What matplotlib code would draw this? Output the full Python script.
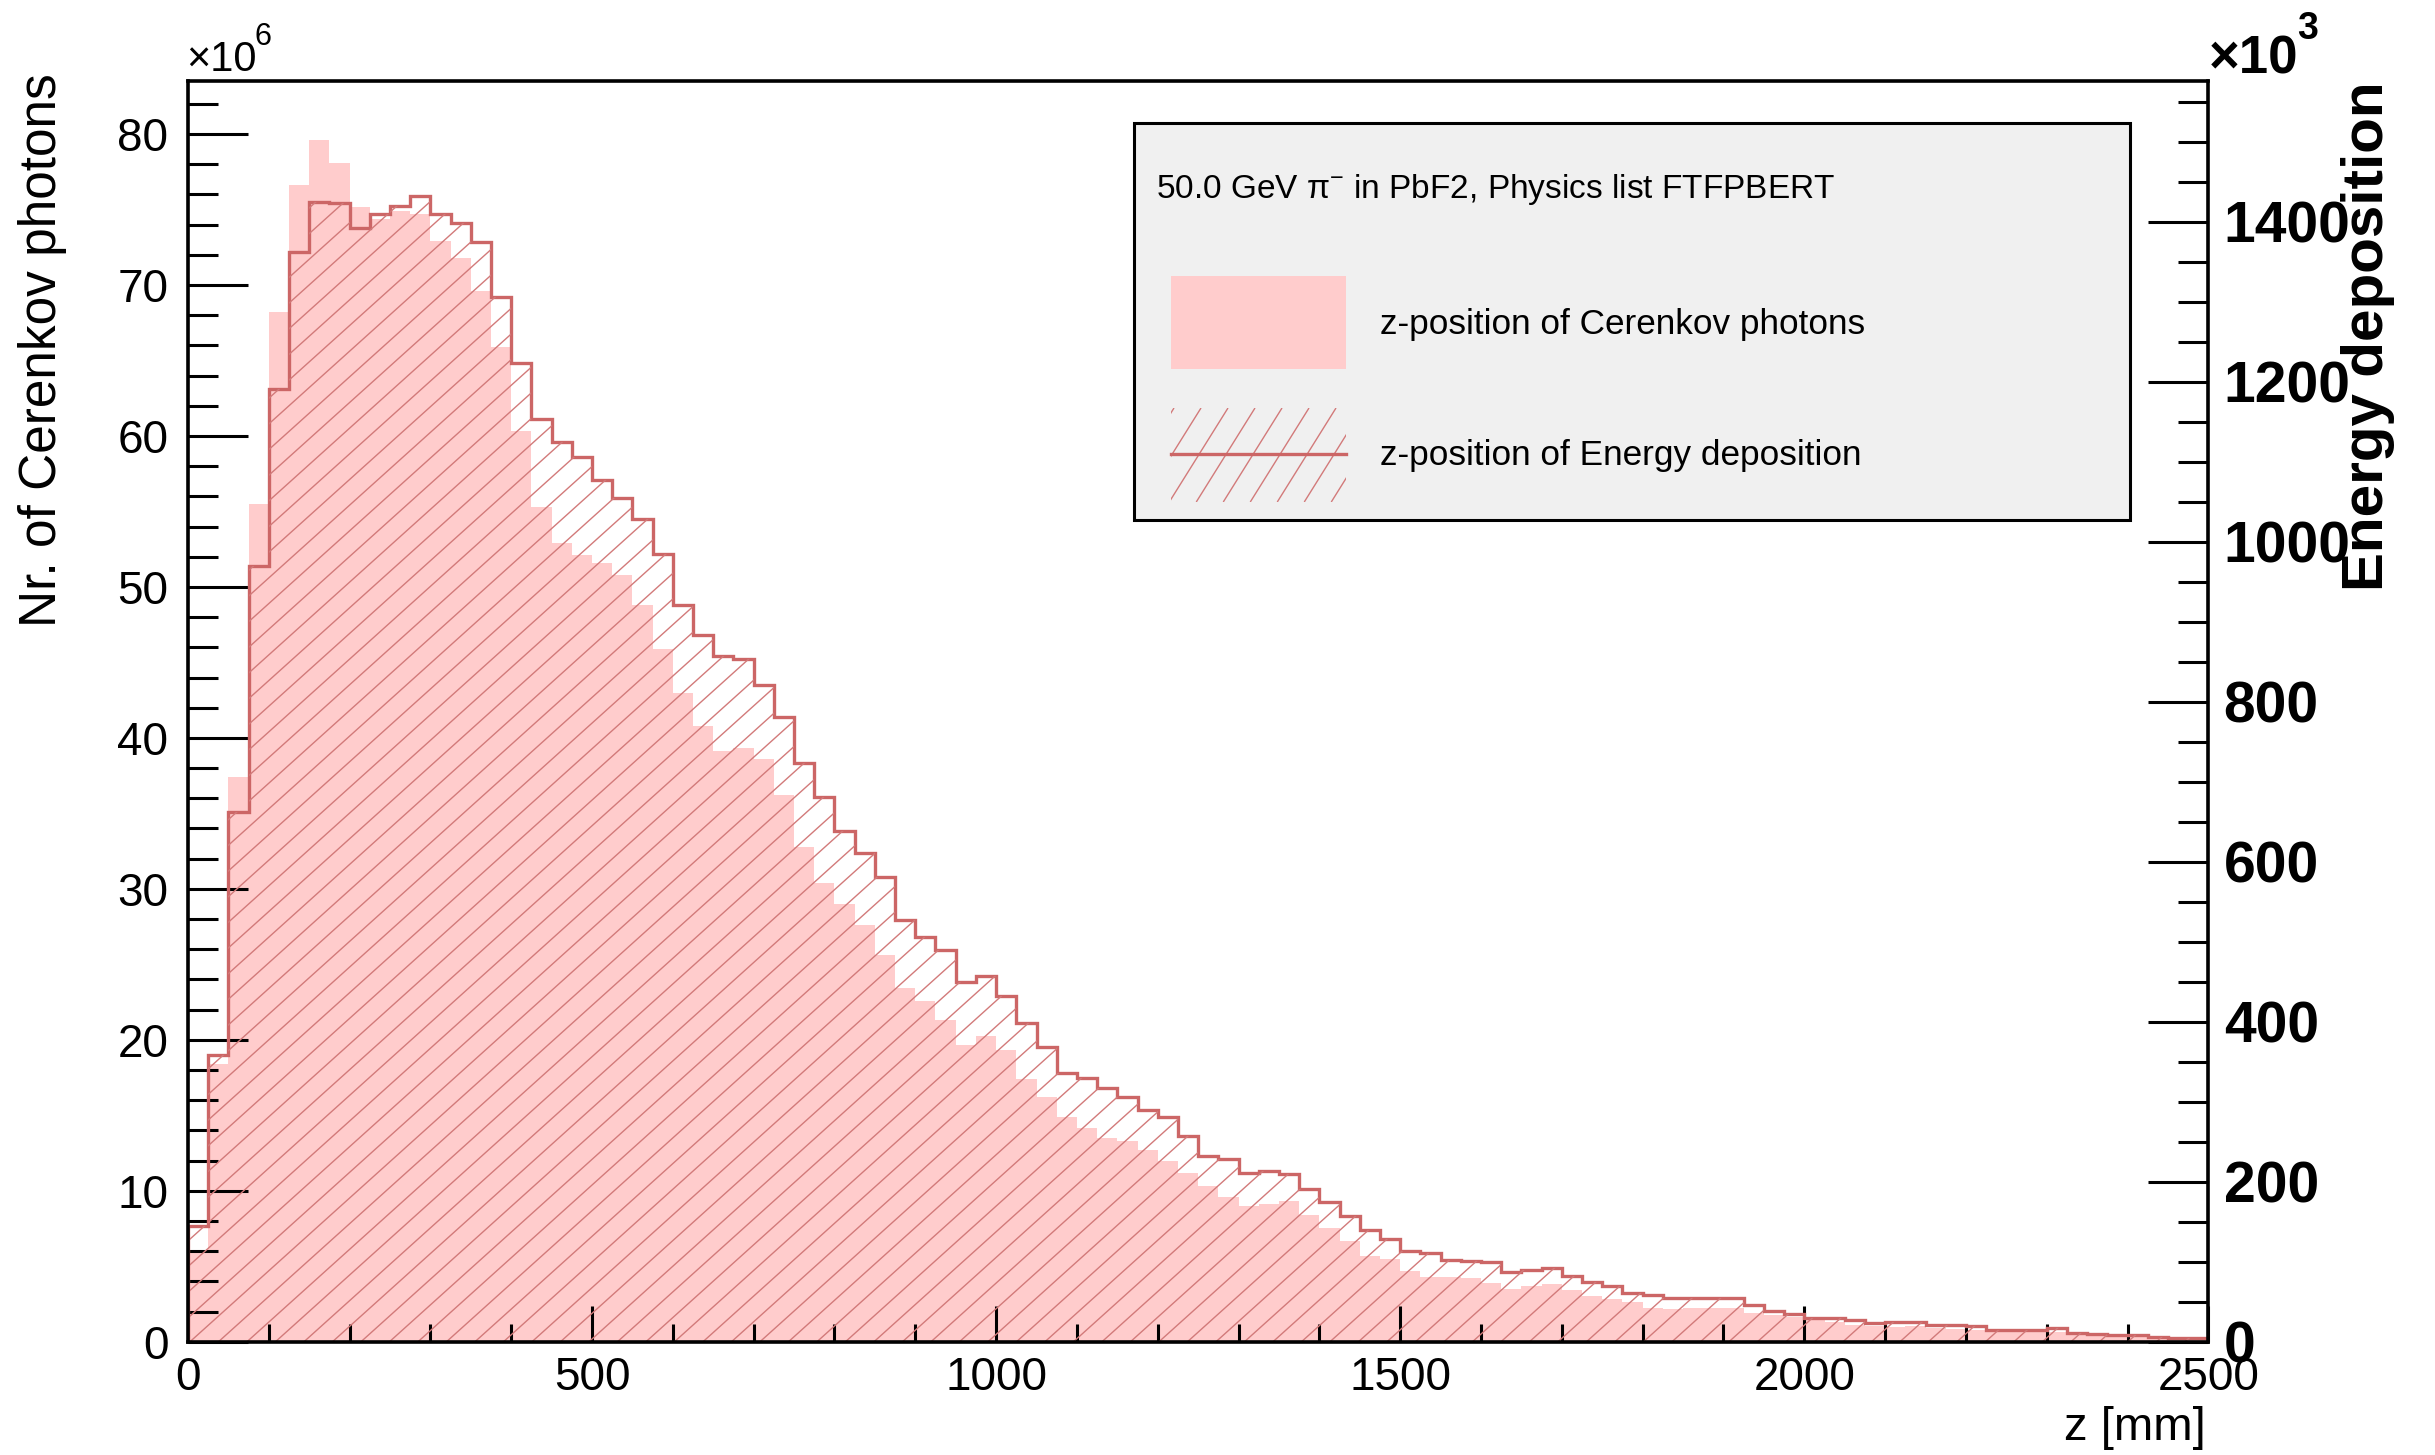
import numpy as np
import matplotlib
matplotlib.use("Agg")
import matplotlib.pyplot as plt
from matplotlib.collections import LineCollection
from matplotlib.patches import Rectangle
from matplotlib.lines import Line2D
from matplotlib.transforms import IdentityTransform
from matplotlib.ticker import MultipleLocator

plt.rcParams['font.family'] = ['Liberation Sans', 'DejaVu Sans']
plt.rcParams['mathtext.fontset'] = 'custom'
plt.rcParams['mathtext.rm'] = 'Liberation Sans'
plt.rcParams['mathtext.it'] = 'Liberation Sans:italic'
plt.rcParams['mathtext.bf'] = 'Liberation Sans:bold'

# ---------------- data ----------------
z_min, z_max, n_bins = 0, 2500, 100

# z-position of Cerenkov photons, per 25 mm bin  (x10^6)
cerenkov = [
    6.1, 18.4, 37.4, 55.5, 68.2, 76.6, 79.6, 78.1, 75.2, 74.4,
    74.9, 74.7, 72.9, 71.8, 69.6, 65.9, 60.3, 55.3, 52.9, 52.1,
    51.6, 50.8, 48.8, 45.9, 43.0, 40.8, 39.1, 39.3, 38.6, 36.2,
    32.8, 30.4, 29.0, 27.6, 25.6, 23.4, 22.6, 21.3, 19.65, 20.25,
    19.3, 17.4, 16.2, 14.9, 14.15, 13.5, 13.3, 12.7, 12.0, 11.2,
    10.3, 9.6, 9.0, 9.1, 9.3, 8.4, 7.5, 6.7, 5.7, 5.5,
    4.7, 4.3, 4.3, 4.25, 3.9, 3.5, 3.7, 3.8, 3.4, 3.0,
    2.81, 2.65, 2.21, 2.17, 2.21, 2.25, 2.21, 1.88, 1.77, 1.66,
    1.44, 1.33, 1.1, 1.04, 0.99, 1.04, 0.88, 0.82, 0.77, 0.73,
    0.71, 0.66, 0.66, 0.44, 0.44, 0.37, 0.37, 0.33, 0.22, 0.15,
]

# z-position of energy deposition, per 25 mm bin  (x10^3)
edep = [
    145, 358, 662, 969, 1191, 1362, 1425, 1423, 1392, 1409,
    1419, 1432, 1409, 1398, 1375, 1306, 1223, 1153, 1124, 1106,
    1077, 1055, 1028, 984, 921, 883, 857, 853, 821, 781,
    723, 681, 638, 611, 581, 527, 506, 490, 450, 457,
    432, 398, 368, 336, 330, 317, 306, 289, 281, 257,
    232, 228, 211, 213, 209, 191, 175, 157, 140, 128,
    113, 111, 102, 101, 100, 87, 89, 92, 82, 74,
    70, 61, 58, 55, 54, 54, 54, 46, 38, 35,
    29, 29, 27, 23, 24, 24, 21, 21, 19, 15,
    14, 14, 17, 11, 10, 8, 8, 6, 4, 4,
]

x_ticks_major = [0, 500, 1000, 1500, 2000, 2500]
left_ticks_major = [0, 10, 20, 30, 40, 50, 60, 70, 80]
right_ticks_major = [0, 200, 400, 600, 800, 1000, 1200, 1400]

header = "50.0 GeV π$^{-}$ in PbF2, Physics list FTFPBERT"
label_cer = "z-position of Cerenkov photons"
label_edep = "z-position of Energy deposition"

# ---------------- styling ----------------
W, H = 2435, 1455
FILL = '#ffcccc'
LINE = '#cc6666'
HATCH = '#d27a7a'


def fx(x):
    return x / W


def fy(y):
    return 1 - y / H


def hatch_segments(x0, x1, y0, y1, angle_deg, hspace, phase=0.0):
    m = np.tan(np.radians(angle_deg))
    h = y1 - y0
    starts = np.arange(x0 - h / m + phase, x1 + hspace, hspace)
    return [[(s, y0), (s + h / m, y1)] for s in starts]


edges = np.linspace(z_min, z_max, n_bins + 1)

fig = plt.figure(figsize=(W / 100, H / 100), dpi=100)
L, R, T, B = 187.9, 2208.4, 80.8, 1341.7
ax = fig.add_axes([fx(L), fy(B), (R - L) / W, (B - T) / H])

ax.stairs(cerenkov, edges, fill=True, facecolor=FILL, edgecolor='none', lw=0)
ax.set_xlim(z_min, z_max)
ax.set_ylim(0, 83.53)

ax2 = ax.twinx()
ax2.set_ylim(0, 1576)

clip = ax2.stairs(edep, edges, fill=True, facecolor='none', edgecolor='none', lw=0)
bx0, by0, bx1, by1 = ax2.bbox.extents
segs = hatch_segments(bx0, bx1, by0, by1, 42, 28.5, phase=6)
lc = LineCollection(segs, colors=HATCH, linewidths=1.0, transform=IdentityTransform())
lc.set_clip_path(clip)
ax2.add_collection(lc, autolim=False)
ax2.stairs(edep, edges, fill=False, edgecolor=LINE, lw=2.4, baseline=0)
ax2.set_xlim(z_min, z_max)
ax2.set_ylim(0, 1576)

# spines
for sp in ax.spines.values():
    sp.set_visible(False)
for sp in ax2.spines.values():
    sp.set_linewidth(2.6)
    sp.set_color('black')
    sp.set_zorder(5)

# ticks left / bottom
ax.set_xticks(x_ticks_major)
ax.xaxis.set_minor_locator(MultipleLocator(100))
ax.set_yticks(left_ticks_major)
ax.yaxis.set_minor_locator(MultipleLocator(2))
ax.tick_params(axis='x', which='major', direction='in', length=26, width=2.2,
               labelsize=33, pad=10, top=False)
ax.tick_params(axis='x', which='minor', direction='in', length=13, width=2.2, top=False)
ax.tick_params(axis='y', which='major', direction='in', length=43, width=2.2,
               labelsize=33, pad=14, right=False)
ax.tick_params(axis='y', which='minor', direction='in', length=21.6, width=2.2, right=False)

# ticks right
ax2.set_yticks(right_ticks_major)
ax2.yaxis.set_minor_locator(MultipleLocator(50))
ax2.tick_params(axis='y', which='major', direction='in', length=43, width=2.2,
                labelsize=41, pad=11)
ax2.tick_params(axis='y', which='minor', direction='in', length=21.6, width=2.2)
for lab in ax2.get_yticklabels():
    lab.set_fontweight('bold')
ax2.tick_params(axis='x', which='both', bottom=False, top=False, labelbottom=False)

# axis titles and exponents
fig.text(fx(43), fy(73), "Nr. of Cerenkov photons", rotation=90,
         ha='center', va='top', fontsize=37)
fig.text(fx(2368), fy(81), "Energy deposition", rotation=90,
         ha='center', va='top', fontsize=42, fontweight='bold')
fig.text(fx(2206), fy(1428), "z [mm]", ha='right', va='center', fontsize=34)

fig.text(fx(186), fy(71), "×10", ha='left', va='baseline', fontsize=30)
fig.text(fx(255), fy(45), "6", ha='left', va='baseline', fontsize=22)
fig.text(fx(2209), fy(73), "×10", ha='left', va='baseline', fontsize=38, fontweight='bold')
fig.text(fx(2297), fy(39), "3", ha='left', va='baseline', fontsize=27, fontweight='bold')

# legend box
box = Rectangle((fx(1134), fy(520)), (2130 - 1134) / W, (520 - 123) / H,
                transform=fig.transFigure, facecolor='#f0f0f0', edgecolor='black',
                lw=2.2, zorder=10)
fig.add_artist(box)
fig.text(fx(1156), fy(198), header, ha='left', va='baseline', fontsize=24, zorder=11)

pink = Rectangle((fx(1171), fy(369)), (1346 - 1171) / W, (369 - 276) / H,
                 transform=fig.transFigure, facecolor=FILL, edgecolor='none', zorder=11)
fig.add_artist(pink)
fig.text(fx(1380), fy(334), label_cer, ha='left', va='baseline', fontsize=25.3, zorder=11)

hclip = Rectangle((fx(1171), fy(502)), (1346 - 1171) / W, (502 - 408) / H,
                  transform=fig.transFigure, facecolor='none', edgecolor='none', zorder=11)
fig.add_artist(hclip)
lsegs = hatch_segments(1171, 1346, H - 502, H - 408, 58, 27, phase=3)
llc = LineCollection(lsegs, colors=HATCH, linewidths=1.0, transform=IdentityTransform(),
                     zorder=11)
llc.set_clip_path(hclip)
fig.add_artist(llc)
fig.add_artist(Line2D([fx(1171), fx(1346)], [fy(454), fy(454)], transform=fig.transFigure,
                      color=LINE, lw=2.4, zorder=12))
fig.text(fx(1380), fy(465), label_edep, ha='left', va='baseline', fontsize=25.3, zorder=11)

fig.savefig("out.png", dpi=100)
